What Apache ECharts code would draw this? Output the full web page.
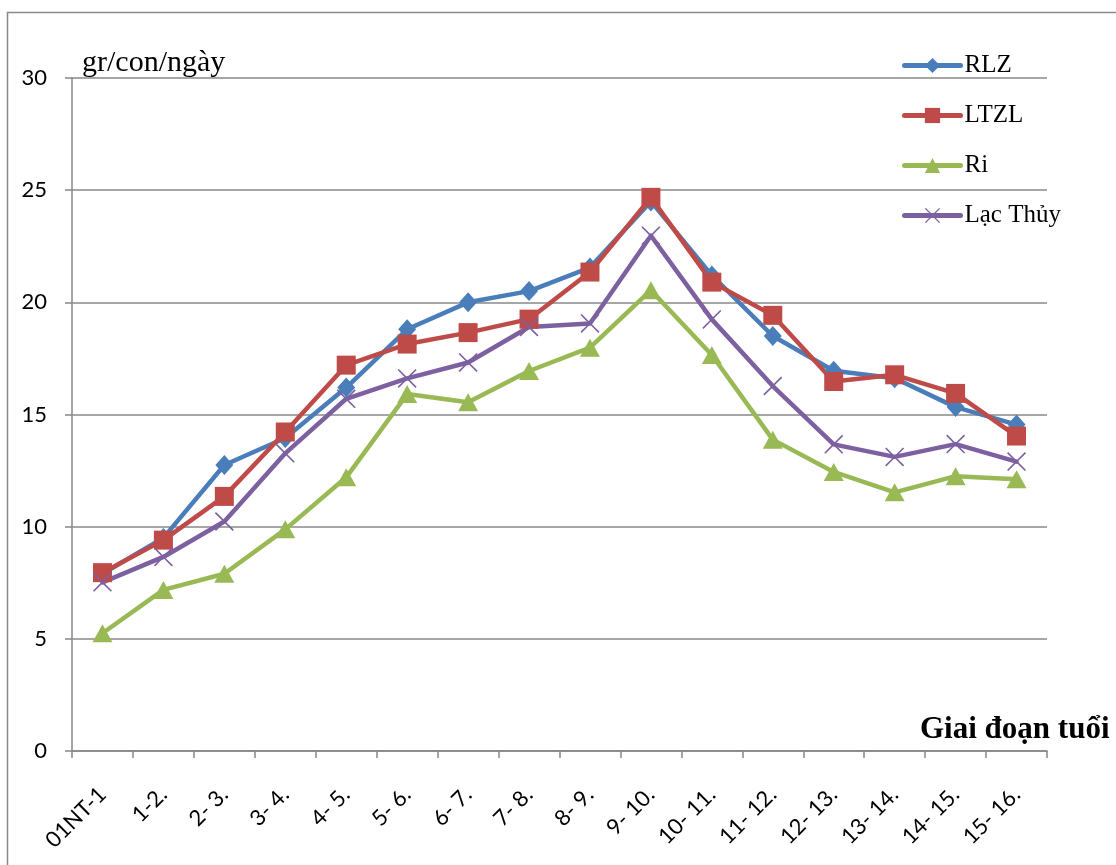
<!DOCTYPE html>
<html>
<head>
<meta charset="utf-8">
<script src="https://cdn.jsdelivr.net/npm/echarts@6/dist/echarts.min.js"></script>
<style>
  html, body { margin: 0; padding: 0; background: #fff; }
  #chart { width: 1116px; height: 865px; }
</style>
</head>
<body>
<div id="chart"></div>
<script>
// Age stages (x axis categories)
var stages = ['01NT-1', '1-2.', '2- 3.', '3- 4.', '4- 5.', '5- 6.', '6- 7.', '7- 8.', '8- 9.',
              '9- 10.', '10- 11.', '11- 12.', '12- 13.', '13- 14.', '14- 15.', '15- 16.'];

// Daily gain, gr/con/ngày, per breed
var rlz      = [7.9, 9.5, 12.75, 13.95, 16.2, 18.8, 20.0, 20.5, 21.55, 24.5, 21.2, 18.5, 16.95, 16.62, 15.33, 14.55];
var ltzl     = [7.95, 9.4, 11.35, 14.22, 17.2, 18.14, 18.65, 19.25, 21.35, 24.68, 20.9, 19.42, 16.47, 16.77, 15.94, 14.04];
var ri       = [5.25, 7.18, 7.9, 9.88, 12.2, 15.91, 15.55, 16.94, 17.98, 20.54, 17.65, 13.88, 12.44, 11.53, 12.25, 12.11];
var lacThuy  = [7.52, 8.65, 10.23, 13.27, 15.7, 16.61, 17.32, 18.9, 19.06, 22.97, 19.24, 16.27, 13.67, 13.11, 13.68, 12.9];

var seriesNames = ['RLZ', 'LTZL', 'Ri', 'Lạc Thủy'];
var yTicks = { min: 0, max: 30, step: 5 };

var colors = ['#4A7EBB', '#BE4B48', '#98B954', '#7D60A0'];
var crossPath = 'path://M0,6 L6,0 L50,44 L94,0 L100,6 L56,50 L100,94 L94,100 L50,56 L6,100 L0,94 L44,50 Z';
var symbols = ['diamond', 'rect', 'triangle', crossPath];
var symbolSizes = [[18, 20], 19, [20, 18], 19];
var values = [rlz, ltzl, ri, lacThuy];

var gray = '#888888';

var series = seriesNames.map(function (name, i) {
  return {
    name: name,
    type: 'line',
    data: values[i],
    symbol: symbols[i],
    symbolSize: symbolSizes[i],
    showAllSymbol: true,
    lineStyle: { color: colors[i], width: 4.5, cap: 'round', join: 'round' },
    itemStyle: { color: colors[i], borderWidth: 0 },
    emphasis: { disabled: true },
    animation: false
  };
});

var chart = echarts.init(document.getElementById('chart'), null, { renderer: 'canvas' });
chart.setOption({
  backgroundColor: '#ffffff',
  animation: false,
  color: colors,
  grid: {
    left: 72, right: 69, top: 78, bottom: 114,
    containLabel: false,
    outerBoundsMode: 'none'
  },
  legend: {
    orient: 'vertical',
    left: 897,
    top: 48,
    itemWidth: 56,
    itemHeight: 19,
    itemGap: 25,
    data: seriesNames,
    lineStyle: { width: 5, cap: 'round' },
    textStyle: { fontFamily: 'Liberation Serif', fontSize: 25, color: '#000', padding: [0, 0, 0, -1] },
    selectedMode: false
  },
  xAxis: {
    type: 'category',
    data: stages,
    boundaryGap: true,
    axisLine: { show: true, lineStyle: { color: gray, width: 1.5 } },
    axisTick: { show: true, length: 7, alignWithLabel: false, lineStyle: { color: gray, width: 1.5 } },
    axisLabel: {
      rotate: 45,
      interval: 0,
      margin: 40,
      fontFamily: 'Lato',
      fontSize: 22,
      color: '#000'
    },
    splitLine: { show: false }
  },
  yAxis: {
    type: 'value',
    min: yTicks.min,
    max: yTicks.max,
    interval: yTicks.step,
    axisLine: { show: true, lineStyle: { color: gray, width: 1.5 } },
    axisTick: { show: true, length: 7, lineStyle: { color: gray, width: 1.5 } },
    axisLabel: { margin: 25, fontFamily: 'Lato', fontSize: 22, color: '#000' },
    splitLine: { show: true, lineStyle: { color: gray, width: 1.5 } }
  },
  graphic: [
    {
      type: 'rect',
      silent: true,
      shape: { x: 7.5, y: 12.5, width: 1200, height: 1000 },
      style: { fill: 'none', stroke: gray, lineWidth: 1.5 },
      z: -1
    },
    {
      type: 'text',
      silent: true,
      left: 82,
      top: 48,
      style: { text: 'gr/con/ngày', fontFamily: 'Liberation Serif', fontSize: 30, fill: '#000' }
    },
    {
      type: 'text',
      silent: true,
      left: 920,
      top: 714,
      style: { text: 'Giai đoạn tuổi', fontFamily: 'Liberation Serif', fontWeight: 'bold', fontSize: 31, fill: '#000' }
    }
  ],
  series: series
});
</script>
</body>
</html>
